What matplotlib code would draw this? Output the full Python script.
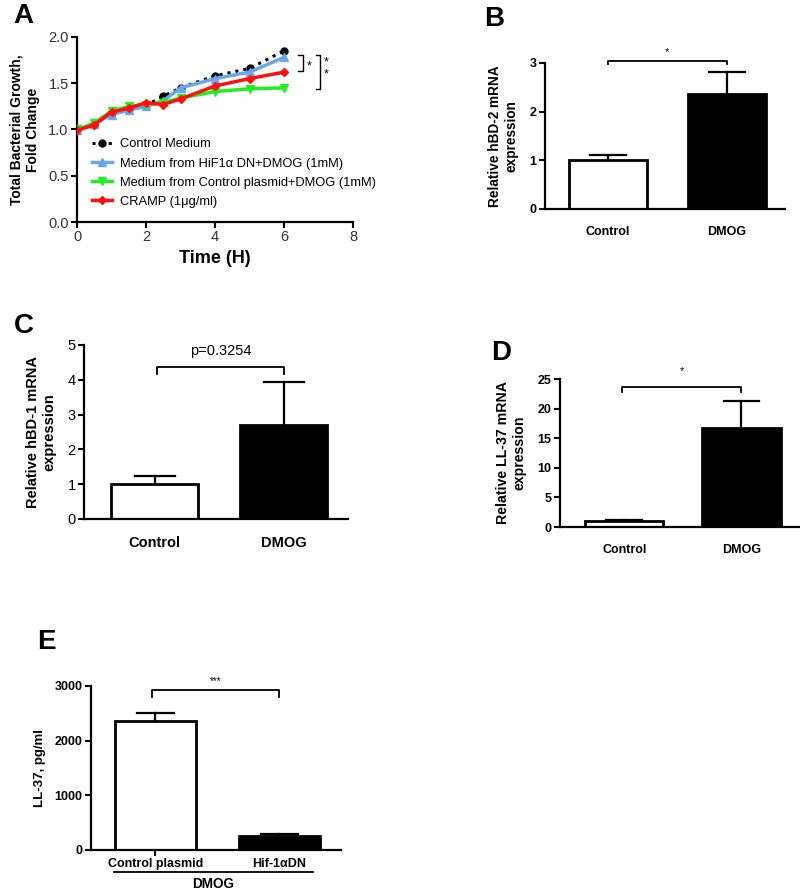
import matplotlib
matplotlib.use("Agg")
import matplotlib.pyplot as plt

plt.rcParams["font.family"] = ["Liberation Sans", "DejaVu Sans"]

# ---- panel A data ----
time = [0, 0.5, 1, 1.5, 2, 2.5, 3, 4, 5, 6]
control_medium = [1.00, 1.06, 1.18, 1.22, 1.26, 1.36, 1.45, 1.58, 1.66, 1.85]
hif_dn = [0.99, 1.06, 1.16, 1.21, 1.25, 1.31, 1.45, 1.55, 1.62, 1.78]
ctrl_plasmid = [1.00, 1.07, 1.20, 1.25, 1.27, 1.29, 1.34, 1.41, 1.44, 1.45]
cramp = [0.99, 1.05, 1.19, 1.23, 1.29, 1.27, 1.33, 1.47, 1.55, 1.62]

# ---- bar panels ----
groups = ["Control", "DMOG"]
hbd2_mean = [1.0, 2.37]
hbd2_err = [0.10, 0.45]
hbd1_mean = [1.02, 2.70]
hbd1_err = [0.22, 1.24]
ll37_mean = [1.05, 16.7]
ll37_err = [0.10, 4.6]
e_groups = ["Control plasmid", "Hif-1\u03b1DN"]
e_mean = [2360, 255]
e_err = [155, 32]

W, H = 800, 891
fig = plt.figure(figsize=(8, 8.91), dpi=100)


def add_ax(x0, x1, ytop, ybot):
    return fig.add_axes([x0 / W, 1 - ybot / H, (x1 - x0) / W, (ybot - ytop) / H])


def prism(ax, bold=False, size=10):
    for s in ["top", "right"]:
        ax.spines[s].set_visible(False)
    for s in ["left", "bottom"]:
        ax.spines[s].set_linewidth(1.6)
    ax.tick_params(direction="out", length=4, width=1.5, labelsize=size, pad=2)
    if bold:
        for lb in ax.get_yticklabels():
            lb.set_fontweight("bold")


def bars(ax, means, errs, width):
    xs = range(len(means))
    ax.bar(xs, means, width=width, color=["white", "black"], edgecolor="black", linewidth=2, zorder=2)
    for x, m, e in zip(xs, means, errs):
        cw = width * 0.23
        ax.plot([x, x], [m, m + e], color="black", lw=1.6, zorder=1)
        ax.plot([x - cw, x + cw], [m + e, m + e], color="black", lw=1.6, zorder=1)


def bracket(ax, x0, x1, y, drop, text, ty, size=9, weight="normal"):
    ax.plot([x0, x0, x1, x1], [y - drop, y, y, y - drop], color="black", lw=1.3, clip_on=False)
    ax.text((x0 + x1) / 2, ty, text, ha="center", va="center", fontsize=size, fontweight=weight)


# ---------------- A ----------------
axA = add_ax(77, 353, 37, 222)
axA.plot(time, control_medium, ls=":", color="black", lw=2.2, marker="o", ms=5, label="Control Medium", zorder=2)
axA.plot(time, hif_dn, color="#6aa6ee", lw=2.5, marker="^", ms=6, label="Medium from HiF1\u03b1 DN+DMOG (1mM)", zorder=3)
axA.plot(time, ctrl_plasmid, color="#22ee22", lw=2.5, marker="v", ms=6, label="Medium from Control plasmid+DMOG (1mM)", zorder=4)
axA.plot(time, cramp, color="#ff1010", lw=2.5, marker="D", ms=4.5, label="CRAMP (1\u03bcg/ml)", zorder=5)
axA.set_xlim(0, 8)
axA.set_ylim(0, 2.0)
axA.set_xticks([0, 2, 4, 6, 8])
axA.set_yticks([0, 0.5, 1.0, 1.5, 2.0])
axA.set_yticklabels(["0.0", "0.5", "1.0", "1.5", "2.0"])
prism(axA, size=10.5)
for lb in axA.get_xticklabels() + axA.get_yticklabels():
    lb.set_color("#333333")
axA.set_xlabel("Time (H)", fontsize=13, fontweight="bold", labelpad=4)
axA.set_ylabel("Total Bacterial Growth,\nFold Change", fontsize=10, fontweight="bold", labelpad=6)
axA.legend(loc="upper left", bbox_to_anchor=(0.035, 0.48), frameon=False, fontsize=9.3,
           handlelength=1.6, labelspacing=0.55, handletextpad=0.6, borderaxespad=0)
# significance brackets
axA.plot([6.42, 6.55, 6.55, 6.42], [1.81, 1.81, 1.63, 1.63], color="black", lw=1, clip_on=False)
axA.text(6.72, 1.68, "*", fontsize=9, ha="center", va="center")
axA.plot([6.92, 7.05, 7.05, 6.92], [1.81, 1.81, 1.44, 1.44], color="black", lw=1, clip_on=False)
axA.text(7.22, 1.72, "*", fontsize=9, ha="center", va="center")
axA.text(7.22, 1.59, "*", fontsize=9, ha="center", va="center")

# ---------------- B ----------------
axB = add_ax(545, 785, 63, 209)
bars(axB, hbd2_mean, hbd2_err, 0.66)
axB.set_xlim(-0.53, 1.49)
axB.set_ylim(0, 3)
axB.set_yticks([0, 1, 2, 3])
axB.set_xticks([0, 1])
axB.set_xticklabels(groups, fontweight="bold", fontsize=9.5)
prism(axB, bold=True, size=9)
axB.tick_params(axis="x", length=0, pad=12)
axB.set_ylabel("Relative hBD-2 mRNA\nexpression", fontsize=9.8, fontweight="bold", labelpad=8)
bracket(axB, 0, 1, 3.05, 0.08, "*", 3.22, size=8)

# ---------------- C ----------------
axC = add_ax(84, 348, 345, 519)
bars(axC, hbd1_mean, hbd1_err, 0.677)
axC.set_xlim(-0.55, 1.5)
axC.set_ylim(0, 5)
axC.set_yticks([0, 1, 2, 3, 4, 5])
axC.set_xticks([0, 1])
axC.set_xticklabels(groups, fontweight="bold", fontsize=10.5)
prism(axC, size=10.5)
axC.tick_params(axis="x", length=0, pad=12)
axC.set_ylabel("Relative hBD-1 mRNA\nexpression", fontsize=10.5, fontweight="bold", labelpad=8)
bracket(axC, 0.02, 1.0, 4.36, 0.19, "p=0.3254", 4.82, size=10.5)

# ---------------- D ----------------
axD = add_ax(560, 800, 379, 527)
bars(axD, ll37_mean, ll37_err, 0.667)
axD.set_xlim(-0.55, 1.5)
axD.set_ylim(0, 25)
axD.set_yticks([0, 5, 10, 15, 20, 25])
axD.set_xticks([0, 1])
axD.set_xticklabels(groups, fontweight="bold", fontsize=9.5)
prism(axD, bold=True, size=9)
axD.tick_params(axis="x", length=0, pad=12)
axD.set_ylabel("Relative LL-37 mRNA\nexpression", fontsize=10.2, fontweight="bold", labelpad=8)
bracket(axD, -0.02, 1.0, 23.6, 0.75, "*", 26.4, size=8)

# ---------------- E ----------------
axE = add_ax(91, 341, 686, 850)
bars(axE, e_mean, e_err, 0.653)
axE.set_xlim(-0.52, 1.5)
axE.set_ylim(0, 3000)
axE.set_yticks([0, 1000, 2000, 3000])
axE.set_xticks([0, 1])
axE.set_xticklabels(e_groups, fontweight="bold", fontsize=9.5)
prism(axE, bold=True, size=9)
axE.tick_params(axis="x", length=4, pad=2)
axE.xaxis.get_major_ticks()[1].tick1line.set_visible(False)
axE.set_ylabel("LL-37, pg/ml", fontsize=9.5, fontweight="bold", labelpad=6)
bracket(axE, -0.03, 1.0, 2933, 135, "***", 3090, size=7)
fig.add_artist(plt.Line2D([114 / W, 313 / W], [1 - 872 / H, 1 - 872 / H], color="black", lw=1.3))
fig.text(213 / W, 1 - 884 / H, "DMOG", ha="center", va="center", fontsize=9.8, fontweight="bold")

# panel letters
for letter, px, py in [("A", 13, 3), ("B", 484, 6), ("C", 14, 313), ("D", 491, 340), ("E", 37, 629)]:
    fig.text(px / W, 1 - py / H, letter, fontsize=20, fontweight="bold", ha="left", va="top")

fig.savefig("out.png", dpi=100)
